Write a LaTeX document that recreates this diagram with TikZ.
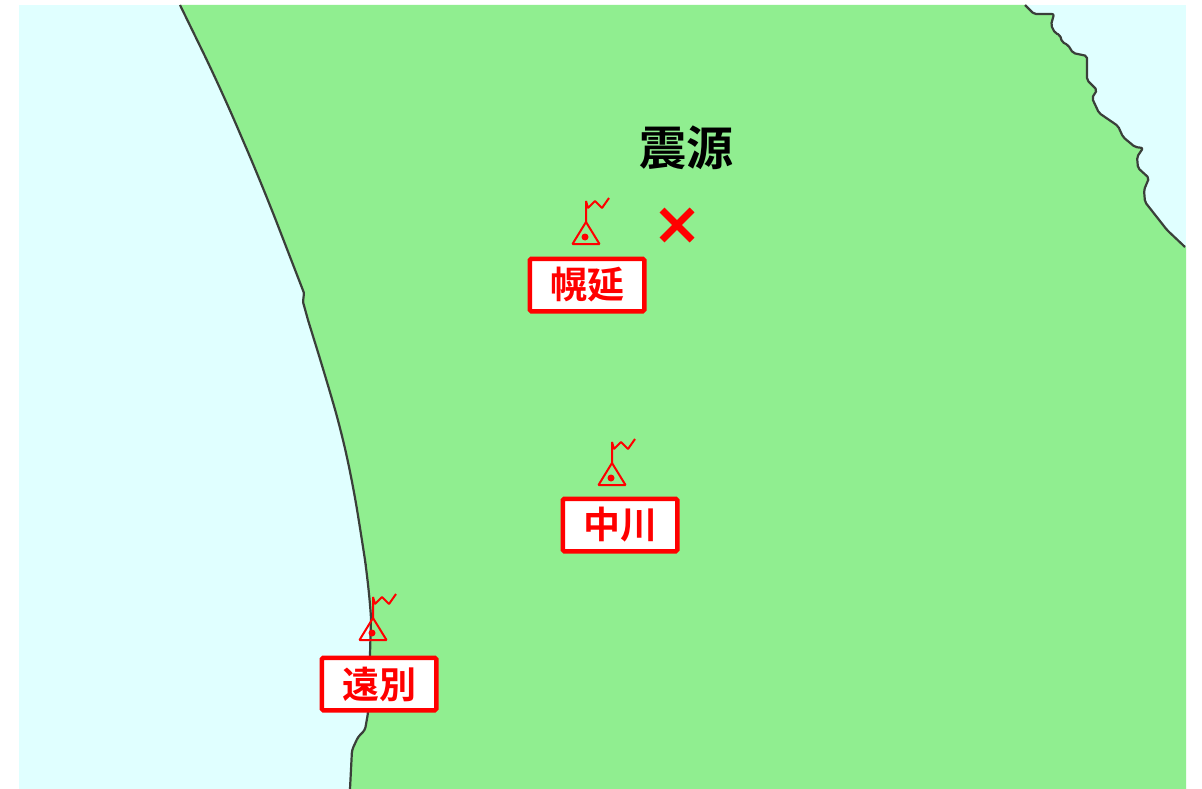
\documentclass[tikz,border=0pt]{standalone}
\usepackage{fontspec}
\newfontfamily\cjk{Noto Sans CJK JP Bold}
\definecolor{land}{HTML}{90EE90}
\definecolor{sea}{HTML}{E0FFFF}
\definecolor{coast}{HTML}{3A3F3A}
\tikzset{
  coastline/.style={draw=coast,line width=2.2pt,line join=round},
  stationlabel/.style={draw=red,line width=4.5pt,fill=white,rounded corners=1.5pt,minimum width=114.5pt,minimum height=52.5pt,inner sep=0pt,text=red,font=\cjk\fontsize{37pt}{37pt}\selectfont},
  title/.style={text=black,inner sep=0pt,font=\cjk\fontsize{47pt}{47pt}\selectfont},
  markline/.style={draw=red,line width=2pt,line join=bevel},
  pics/station/.style={code={
    \draw[markline] (0,0) -- (-13.5,22) -- (13.5,22) -- cycle;
    \draw[markline] (0,0) -- (0,-21) -- (2,-14) -- (9,-21) -- (16,-14) -- (23,-24);
    \fill[red] (-1,15) circle (3.5pt);
  }}
}
\def\leftcoast{(350,789) [rounded corners=3pt] -- (352,750) -- (358,737) -- (365,730) -- (368,713) -- (370,655) -- (371,617) [rounded corners=25pt] -- (368,580) -- (362,540) -- (353,485) -- (341,430) -- (325,375) [rounded corners=1pt] -- (308,320) -- (303,302) -- (304,293) [rounded corners=40pt] -- (263,187) -- (220,87) [sharp corners] -- (180,5)}
\def\rightcoast{(1025,5) [rounded corners=2pt] -- (1034,14) -- (1054,14) -- (1051,25) -- (1055,33) -- (1060,35) -- (1062,42) -- (1068,45) -- (1073,53) -- (1087,56) -- (1087,80) -- (1097,90) -- (1092,98) -- (1099,113) -- (1118,126) -- (1123,137) -- (1135,147) -- (1143,148) -- (1137,157) -- (1138,168) -- (1149,178) -- (1144,190) -- (1145,202) -- (1167,230) [sharp corners] -- (1185,247)}
\begin{document}
\begin{tikzpicture}[x=1pt,y=-1pt]
\useasboundingbox (0,0) rectangle (1202,789);
\fill[white] (0,0) rectangle (1202,789);
\fill[sea] (19,5) rectangle (1186,789);
\fill[land] \leftcoast -- \rightcoast -- (1186,247) -- (1186,789) -- cycle;
\draw[coastline] \leftcoast;
\draw[coastline] \rightcoast;
\pic at (586,222) {station};
\pic at (612,463) {station};
\pic at (373,618) {station};
\node[stationlabel] (horonobe) at (587,285) {幌延};
\node[stationlabel] (nakagawa) at (620,525) {中川};
\node[stationlabel] (enbetsu) at (379,684) {遠別};
\node[title] (epicenter) at (686,147.5) {震源};
\coordinate (xc) at (677,225);
\draw[red,line width=7pt] ([xshift=-15pt,yshift=-15pt]xc) -- ([xshift=15pt,yshift=15pt]xc);
\draw[red,line width=7pt] ([xshift=-15pt,yshift=15pt]xc) -- ([xshift=15pt,yshift=-15pt]xc);
\end{tikzpicture}
\end{document}
